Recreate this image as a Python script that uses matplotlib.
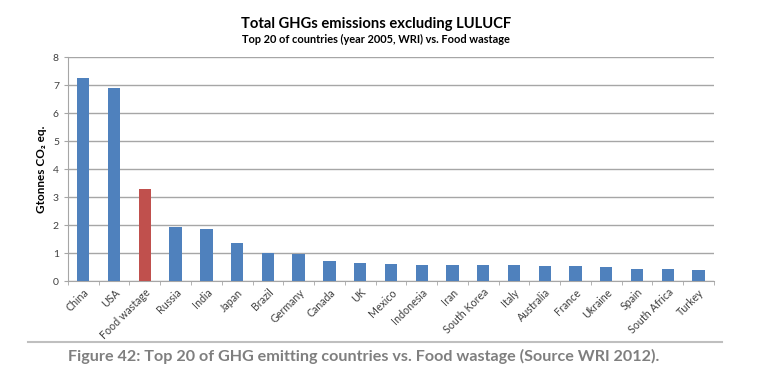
import matplotlib
matplotlib.use('Agg')
import matplotlib.pyplot as plt
import numpy as np

# Datos (Gt CO2 eq., WRI 2005)
paises = ['China', 'USA', 'Food wastage', 'Russia', 'India', 'Japan', 'Brazil',
          'Germany', 'Canada', 'UK', 'Mexico', 'Indonesia', 'Iran', 'South Korea',
          'Italy', 'Australia', 'France', 'Ukraine', 'Spain', 'South Africa', 'Turkey']
emisiones = [7.25, 6.9, 3.3, 1.95, 1.85, 1.35, 1.0, 0.97, 0.73, 0.65, 0.62,
             0.58, 0.57, 0.57, 0.57, 0.55, 0.55, 0.5, 0.43, 0.43, 0.38]
yticks = [0, 1, 2, 3, 4, 5, 6, 7, 8]

plt.rcParams['font.family'] = ['Lato', 'DejaVu Sans']

fig = plt.figure(figsize=(7.68, 3.83), dpi=100)
ax = fig.add_axes([0.0885, 0.266, 0.841, 0.585])

x = np.arange(len(paises))
colores = ['#C0504D' if p == 'Food wastage' else '#4F81BD' for p in paises]
ax.bar(x, emisiones, width=0.4, color=colores, zorder=3)

ax.set_xlim(-0.5, len(paises) - 0.5)
ax.set_ylim(0, 8)
ax.set_yticks(yticks)
ax.yaxis.grid(True, color='#A6A6A6', linewidth=1, zorder=0)
ax.tick_params(axis='y', labelsize=7.5, colors='#404040', length=3, color='#A6A6A6')

# ticks entre categorias como Excel
ax.set_xticks(x)
ax.set_xticklabels(paises, rotation=45, ha='right', rotation_mode='anchor', fontsize=7.7, color='#404040')
ax.tick_params(axis='x', length=0, pad=4)
ax.set_xticks(np.arange(-0.5, len(paises), 1), minor=True)
ax.tick_params(axis='x', which='minor', length=3, color='#A6A6A6')

for s in ['top', 'right']:
    ax.spines[s].set_visible(False)
ax.spines['left'].set_color('#A6A6A6')
ax.spines['bottom'].set_color('#A6A6A6')

ax.set_ylabel('Gtonnes CO₂ eq.', fontsize=8.5, fontweight='bold', labelpad=4)

fig.text(0.49, 0.937, 'Total GHGs emissions excluding LULUCF', ha='center', va='center',
         fontsize=10.6, fontweight='bold')
fig.text(0.49, 0.896, 'Top 20 of countries (year 2005, WRI) vs. Food wastage', ha='center',
         va='center', fontsize=7.9, fontweight='bold')

# linea y pie de figura
fig.add_artist(plt.Line2D([0.036, 0.94], [0.107, 0.107], color='#BFBFBF', linewidth=1.5))
fig.text(0.088, 0.068, 'Figure 42: Top 20 of GHG emitting countries vs. Food wastage (Source WRI 2012).',
         ha='left', va='center', fontsize=11.6, fontweight='bold', color='#7F7F7F')

plt.savefig('out.png', dpi=100)
